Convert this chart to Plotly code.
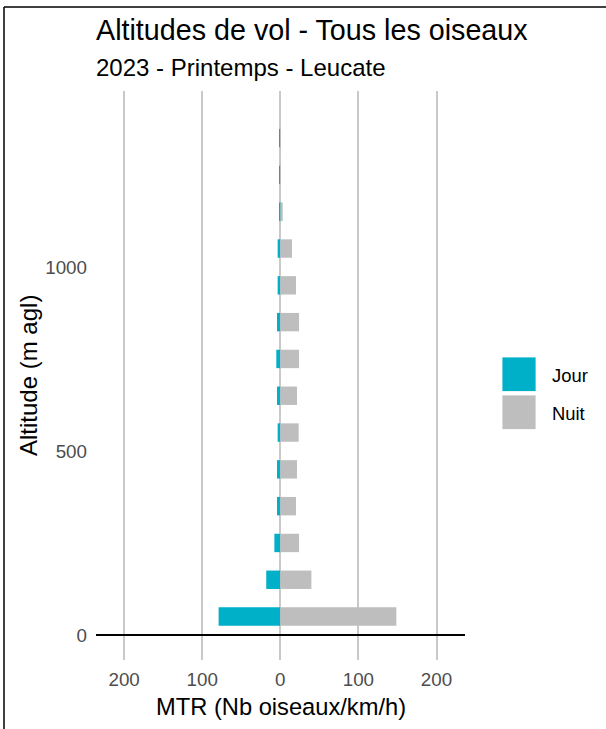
import plotly.graph_objects as go

# Altitude classes (bar centres, m agl) and mean MTR per class
altitudes = [50, 150, 250, 350, 450, 550, 650, 750, 850, 950, 1050, 1150, 1250, 1350]
mtr_jour = [79, 18, 7.6, 4.2, 4.2, 3.4, 4.2, 5.1, 4.2, 3.4, 3.4, 1.3, 0.8, 0.8]
mtr_nuit = [148.6, 39.8, 24, 20.1, 21.4, 23.5, 21.4, 24, 24, 20.1, 15, 3.1, 0.3, 0.3]

x_ticks = [-200, -100, 0, 100, 200]
x_tick_text = ["200", "100", "0", "100", "200"]
y_ticks = [0, 500, 1000]

series_names = ["Jour", "Nuit"]
colors = {"Jour": "#00AFC8", "Nuit": "#BEBEBE"}

title = "Altitudes de vol - Tous les oiseaux"
subtitle = "2023 - Printemps - Leucate"
x_title = "MTR (Nb oiseaux/km/h)"
y_title = "Altitude (m agl)"

FONT = "Liberation Sans, Arial, sans-serif"
W, H = 606, 729
PL, PR, PT, PB = 96, 465, 91, 660  # plot panel edges in pixels


def px(x):
    return (x - PL) / (PR - PL)


def py(y):
    return (PB - y) / (PB - PT)


fig = go.Figure()
fig.add_trace(go.Bar(
    y=altitudes, x=[-v for v in mtr_jour], orientation="h", width=50,
    name="Jour", marker=dict(color=colors["Jour"], line=dict(width=0)),
    showlegend=False,
))
fig.add_trace(go.Bar(
    y=altitudes, x=mtr_nuit, orientation="h", width=50,
    name="Nuit", marker=dict(color=colors["Nuit"], line=dict(width=0)),
    showlegend=False,
))

fig.update_layout(
    width=W, height=H,
    margin=dict(l=PL, r=W - PR, t=PT, b=H - PB),
    paper_bgcolor="white", plot_bgcolor="white",
    barmode="overlay",
    font=dict(family=FONT, color="#000000"),
    showlegend=False,
)

fig.update_xaxes(
    range=[-236, 236.5], tickvals=x_ticks, ticktext=x_tick_text,
    showgrid=True, gridcolor="#C9C9C9", gridwidth=1.6,
    zeroline=False, showline=False, ticks="",
    tickfont=dict(family=FONT, size=18.8, color="#4D4D4D"),
    ticklabelstandoff=6,
)
fig.update_yaxes(
    range=[-68, 1478], tickvals=y_ticks,
    showgrid=False, zeroline=True, zerolinecolor="#000000", zerolinewidth=2,
    showline=False, ticks="",
    tickfont=dict(family=FONT, size=18.8, color="#4D4D4D"),
    ticklabelstandoff=8,
)

annotations = [
    dict(text=title, x=0, y=py(30), xref="paper", yref="paper", xshift=-2,
         xanchor="left", yanchor="middle", showarrow=False,
         font=dict(family=FONT, size=28.7, color="#000000")),
    dict(text=subtitle, x=0, y=py(67), xref="paper", yref="paper", xshift=-2,
         xanchor="left", yanchor="middle", showarrow=False,
         font=dict(family=FONT, size=24, color="#000000")),
    dict(text=x_title, x=0.5, y=py(707), xref="paper", yref="paper",
         xanchor="center", yanchor="middle", showarrow=False,
         font=dict(family=FONT, size=23.7, color="#000000")),
    dict(text=y_title, x=px(28), y=py(376), xref="paper", yref="paper",
         xanchor="center", yanchor="middle", showarrow=False, textangle=-90,
         font=dict(family=FONT, size=24, color="#000000")),
]

shapes = []
# Legend keys drawn as large squares with text labels
key_top = [357, 395]
for name, top in zip(series_names, key_top):
    shapes.append(dict(
        type="rect", xref="paper", yref="paper",
        x0=px(502), x1=px(536), y0=py(top + 34.5), y1=py(top),
        fillcolor=colors[name], line=dict(width=0.8, color="#FFFFFF"),
    ))
    annotations.append(dict(
        text=name, x=px(550), y=py(top + 18), xref="paper", yref="paper",
        xanchor="left", yanchor="middle", showarrow=False,
        font=dict(family=FONT, size=18.4, color="#000000"),
    ))

# Frame lines on the top and left edges of the page
shapes.append(dict(type="line", xref="paper", yref="paper",
                   x0=px(4), x1=px(W), y0=py(7), y1=py(7),
                   line=dict(color="#000000", width=1.5)))
shapes.append(dict(type="line", xref="paper", yref="paper",
                   x0=px(4), x1=px(4), y0=py(7), y1=py(H),
                   line=dict(color="#000000", width=1.5)))

fig.update_layout(annotations=annotations, shapes=shapes)

fig.write_html("out.html")
